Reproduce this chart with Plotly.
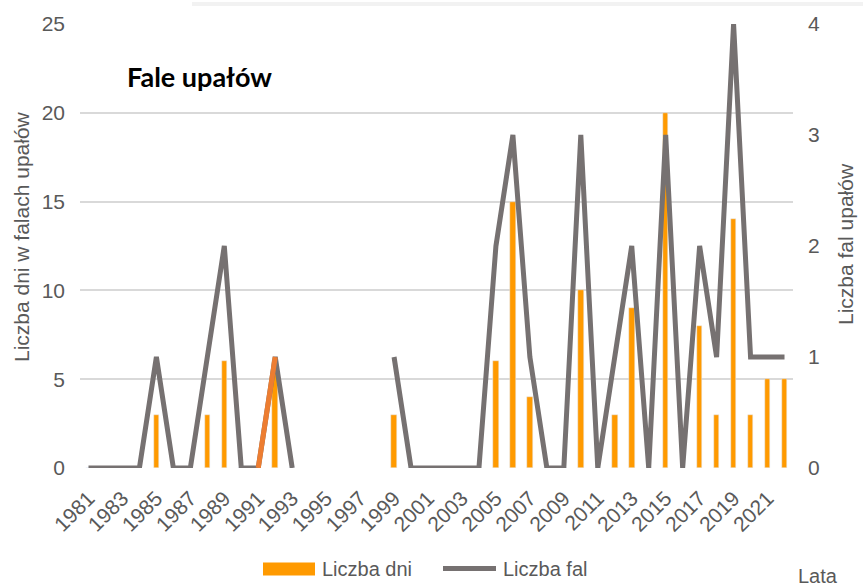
import plotly.graph_objects as go

years = [1981, 1982, 1983, 1984, 1985, 1986, 1987, 1988, 1989, 1990,
         1991, 1992, 1993, 1994, 1995, 1996, 1997, 1998, 1999, 2000,
         2001, 2002, 2003, 2004, 2005, 2006, 2007, 2008, 2009, 2010,
         2011, 2012, 2013, 2014, 2015, 2016, 2017, 2018, 2019, 2020,
         2021, 2022]

liczba_dni = [0, 0, 0, 0, 3, 0, 0, 3, 6, 0,
              0, 6, 0, None, None, None, None, None, 3, 0,
              0, 0, 0, 0, 6, 15, 4, 0, 0, 10,
              0, 3, 9, 0, 20, 0, 8, 3, 14, 3,
              5, 5]

liczba_fal = [0, 0, 0, 0, 1, 0, 0, 1, 2, 0,
              0, 1, 0, None, None, None, None, None, 1, 0,
              0, 0, 0, 0, 2, 3, 1, 0, 0, 3,
              0, 1, 2, 0, 3, 0, 2, 1, 4, 1,
              1, 1]

# segment of the "Liczba fal" line that is drawn in orange in the original
seg_years = [1991, 1992]
seg_fal = [0, 1]

x_tickvals = [1981, 1983, 1985, 1987, 1989, 1991, 1993, 1995, 1997, 1999, 2001,
              2003, 2005, 2007, 2009, 2011, 2013, 2015, 2017, 2019, 2021]
x_ticktext = [str(v) for v in x_tickvals]

title_text = "Fale upałów"
y1_title = "Liczba dni w falach upałów"
y2_title = "Liczba fal upałów"
x_title = "Lata"
name_dni = "Liczba dni"
name_fal = "Liczba fal"

BAR_C = "#FF9A00"
LINE_C = "#767171"
SEG_C = "#ED7D31"
TXT = "#595959"
FONT = "Liberation Sans, Arial, sans-serif"

W, H = 863, 586
L, R, T, B = 80, 70, 22, 118
pw, ph = W - L - R, H - T - B


def px(x):
    return (x - L) / pw


def py(y):
    return (H - B - y) / ph


fig = go.Figure()
fig.add_trace(go.Bar(x=years, y=liczba_dni, name=name_dni, marker_color=BAR_C,
                     width=0.33, yaxis="y", showlegend=False))
fig.add_trace(go.Scatter(x=years, y=liczba_fal, name=name_fal, mode="lines",
                         line=dict(color=LINE_C, width=5), yaxis="y2",
                         connectgaps=False, showlegend=False))
fig.add_trace(go.Scatter(x=seg_years, y=seg_fal, mode="lines",
                         line=dict(color=SEG_C, width=5), yaxis="y2",
                         showlegend=False, hoverinfo="skip"))

fig.update_layout(
    width=W, height=H,
    margin=dict(l=L, r=R, t=T, b=B),
    paper_bgcolor="white", plot_bgcolor="white",
    font=dict(family=FONT, color=TXT),
    bargap=0,
    xaxis=dict(range=[1980.5, 2022.5], tickmode="array", tickvals=x_tickvals,
               ticktext=x_ticktext, tickangle=-45, showgrid=False, zeroline=False,
               showline=False, ticks="", tickfont=dict(size=21, color=TXT),
               ticklabelstandoff=13),
    yaxis=dict(range=[0, 25], dtick=5, showgrid=True, gridcolor="#D9D9D9",
               gridwidth=1.5, zeroline=False, showline=False, ticks="",
               tickfont=dict(size=21, color=TXT), ticklabelstandoff=14),
    yaxis2=dict(range=[0, 4], dtick=1, overlaying="y", side="right",
                showgrid=False, zeroline=False, showline=False, ticks="",
                tickfont=dict(size=21, color=TXT), ticklabelstandoff=14),
)

annotations = [
    dict(text="<b>" + title_text + "</b>", x=px(125), y=py(75), xref="paper",
         yref="paper", xanchor="left", yanchor="middle", showarrow=False,
         font=dict(family="Lato, sans-serif", size=27, color="black")),
    dict(text=y1_title, x=px(21), y=py(236), xref="paper", yref="paper",
         xanchor="center", yanchor="middle", textangle=-90, showarrow=False,
         font=dict(size=21, color=TXT)),
    dict(text=y2_title, x=px(845), y=py(243), xref="paper", yref="paper",
         xanchor="center", yanchor="middle", textangle=-90, showarrow=False,
         font=dict(size=21, color=TXT)),
    dict(text=x_title, x=px(818), y=py(576), xref="paper", yref="paper",
         xanchor="center", yanchor="middle", showarrow=False,
         font=dict(size=20, color=TXT)),
    dict(text=name_dni, x=px(320), y=py(569), xref="paper", yref="paper",
         xanchor="left", yanchor="middle", showarrow=False,
         font=dict(size=20, color=TXT)),
    dict(text=name_fal, x=px(501), y=py(569), xref="paper", yref="paper",
         xanchor="left", yanchor="middle", showarrow=False,
         font=dict(size=20, color=TXT)),
]
fig.update_layout(annotations=annotations)

shapes = [
    dict(type="rect", xref="paper", yref="paper", x0=px(192), x1=px(863),
         y0=py(4), y1=py(0), fillcolor="#F2F2F2", line=dict(width=0), layer="below"),
    dict(type="rect", xref="paper", yref="paper", x0=px(263), x1=px(315),
         y0=py(576), y1=py(563), fillcolor=BAR_C, line=dict(width=0)),
    dict(type="line", xref="paper", yref="paper", x0=px(443), x1=px(496),
         y0=py(569), y1=py(569), line=dict(color=LINE_C, width=5)),
]
fig.update_layout(shapes=shapes)

fig.write_html("out.html")
